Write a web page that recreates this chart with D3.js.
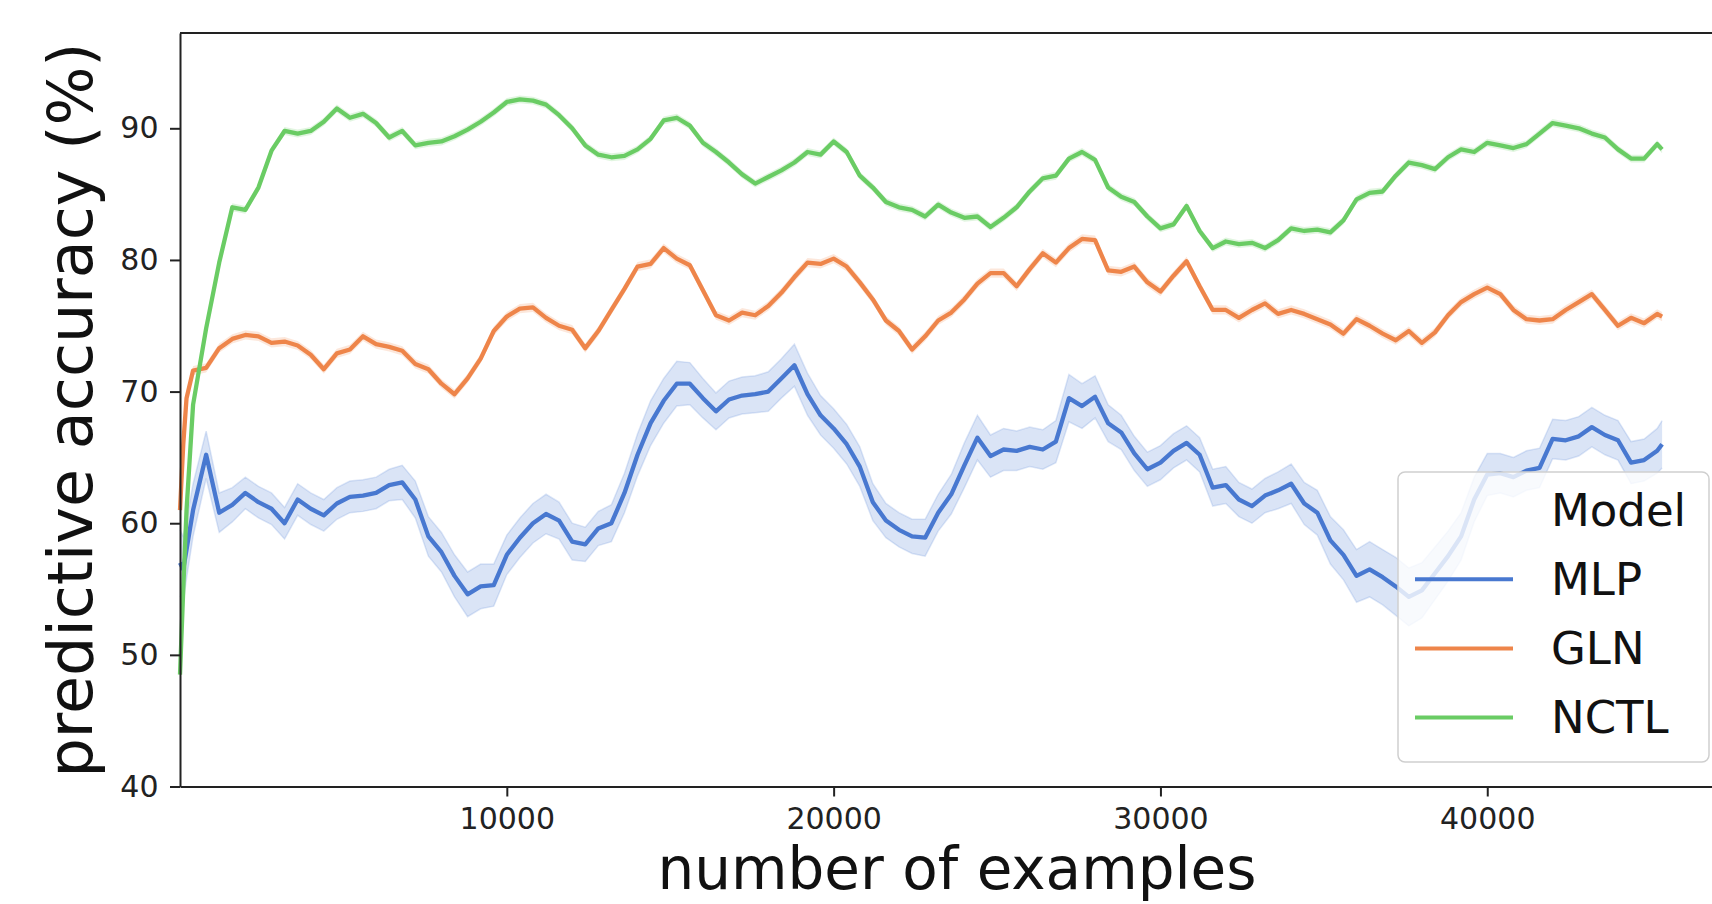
<!DOCTYPE html>
<html>
<head>
<meta charset="utf-8">
<script src="https://cdn.jsdelivr.net/npm/d3@7"></script>
<style>
  body { margin: 0; background: #fff; }
  svg { display: block; font-family: "DejaVu Sans", sans-serif; }
</style>
</head>
<body>
<svg id="chart"></svg>
<script>
// number of examples seen (shared x grid for all models)
const examples = [
  0, 100, 200, 400, 800, 1200, 1600, 2000, 2400, 2800,
  3200, 3600, 4000, 4400, 4800, 5200, 5600, 6000, 6400, 6800,
  7200, 7600, 8000, 8400, 8800, 9200, 9600, 10000, 10400, 10800,
  11200, 11600, 12000, 12400, 12800, 13200, 13600, 14000, 14400, 14800,
  15200, 15600, 16000, 16400, 16800, 17200, 17600, 18000, 18400, 18800,
  19200, 19600, 20000, 20400, 20800, 21200, 21600, 22000, 22400, 22800,
  23200, 23600, 24000, 24400, 24800, 25200, 25600, 26000, 26400, 26800,
  27200, 27600, 28000, 28400, 28800, 29200, 29600, 30000, 30400, 30800,
  31200, 31600, 32000, 32400, 32800, 33200, 33600, 34000, 34400, 34800,
  35200, 35600, 36000, 36400, 36800, 37200, 37600, 38000, 38400, 38800,
  39200, 39600, 40000, 40400, 40800, 41200, 41600, 42000, 42400, 42800,
  43200, 43600, 44000, 44400, 44800, 45200, 45350
];

const mlpAcc = [
  57.0, 56.5, 58.0, 61.0, 65.2, 60.8, 61.4, 62.3, 61.6, 61.1,
  60.0, 61.8, 61.1, 60.6, 61.5, 62.0, 62.1, 62.3, 62.9, 63.1,
  61.8, 59.0, 57.8, 56.0, 54.6, 55.2, 55.3, 57.6, 58.9, 60.0,
  60.7, 60.2, 58.6, 58.4, 59.6, 60.0, 62.3, 65.2, 67.6, 69.3,
  70.6, 70.6, 69.5, 68.5, 69.4, 69.7, 69.8, 70.0, 71.0, 72.0,
  69.8, 68.2, 67.2, 66.0, 64.3, 61.6, 60.2, 59.5, 59.0, 58.9,
  60.8, 62.2, 64.4, 66.5, 65.1, 65.6, 65.5, 65.8, 65.6, 66.2,
  69.5, 68.9, 69.6, 67.6, 66.9, 65.3, 64.1, 64.6, 65.5, 66.1,
  65.2, 62.7, 62.9, 61.8, 61.3, 62.1, 62.5, 63.0, 61.5, 60.8,
  58.7, 57.6, 56.0, 56.5, 55.9, 55.2, 54.4, 54.9, 56.2, 57.5,
  59.0, 61.8, 63.7, 63.8, 63.5, 64.0, 64.2, 66.4, 66.3, 66.6,
  67.3, 66.7, 66.3, 64.6, 64.8, 65.5, 66.0
];

// half width of the MLP confidence band
const mlpCi = [
  2.5, 2.5, 2.2, 2.0, 1.8, 1.5, 1.3, 1.2, 1.2, 1.2,
  1.2, 1.2, 1.2, 1.2, 1.2, 1.2, 1.2, 1.2, 1.2, 1.3,
  1.4, 1.5, 1.5, 1.6, 1.7, 1.7, 1.6, 1.5, 1.5, 1.5,
  1.5, 1.4, 1.4, 1.3, 1.3, 1.4, 1.5, 1.6, 1.7, 1.7,
  1.7, 1.6, 1.5, 1.4, 1.4, 1.4, 1.4, 1.5, 1.5, 1.6,
  1.6, 1.5, 1.5, 1.5, 1.5, 1.4, 1.3, 1.3, 1.3, 1.4,
  1.4, 1.5, 1.7, 1.7, 1.6, 1.6, 1.5, 1.5, 1.5, 1.6,
  1.8, 1.7, 1.6, 1.4, 1.3, 1.3, 1.3, 1.3, 1.3, 1.3,
  1.3, 1.4, 1.4, 1.3, 1.3, 1.3, 1.4, 1.5, 1.6, 1.7,
  1.8, 1.9, 2.0, 2.1, 2.1, 2.2, 2.2, 2.1, 2.0, 1.9,
  1.8, 1.7, 1.6, 1.5, 1.5, 1.5, 1.5, 1.5, 1.5, 1.5,
  1.5, 1.5, 1.5, 1.6, 1.6, 1.7, 1.8
];

const glnAcc = [
  61.0, 66.0, 69.5, 71.6, 71.8, 73.3, 74.0, 74.3, 74.2, 73.7,
  73.8, 73.5, 72.8, 71.7, 72.9, 73.2, 74.2, 73.6, 73.4, 73.1,
  72.1, 71.7, 70.6, 69.8, 71.0, 72.5, 74.6, 75.7, 76.3, 76.4,
  75.6, 75.0, 74.7, 73.3, 74.6, 76.2, 77.8, 79.5, 79.7, 80.9,
  80.1, 79.6, 77.7, 75.8, 75.4, 76.0, 75.8, 76.5, 77.5, 78.7,
  79.8, 79.7, 80.1, 79.5, 78.3, 77.0, 75.4, 74.6, 73.2, 74.2,
  75.4, 76.0, 77.0, 78.2, 79.0, 79.0, 78.0, 79.3, 80.5, 79.8,
  80.9, 81.6, 81.5, 79.2, 79.1, 79.5, 78.3, 77.6, 78.8, 79.9,
  78.0, 76.2, 76.2, 75.6, 76.2, 76.7, 75.9, 76.2, 75.9, 75.5,
  75.1, 74.4, 75.5, 75.0, 74.4, 73.9, 74.6, 73.7, 74.5, 75.8,
  76.8, 77.4, 77.9, 77.4, 76.2, 75.5, 75.4, 75.5, 76.2, 76.8,
  77.4, 76.2, 75.0, 75.6, 75.2, 75.9, 75.7
];

const nctlAcc = [
  48.5, 55.0, 61.0, 69.0, 74.8, 79.8, 84.0, 83.8, 85.5, 88.3,
  89.8, 89.6, 89.8, 90.5, 91.5, 90.8, 91.1, 90.4, 89.3, 89.8,
  88.7, 88.9, 89.0, 89.4, 89.9, 90.5, 91.2, 92.0, 92.2, 92.1,
  91.8, 91.0, 90.0, 88.7, 88.0, 87.8, 87.9, 88.4, 89.2, 90.6,
  90.8, 90.2, 88.9, 88.2, 87.4, 86.5, 85.8, 86.3, 86.8, 87.4,
  88.2, 88.0, 89.0, 88.2, 86.4, 85.5, 84.4, 84.0, 83.8, 83.3,
  84.2, 83.6, 83.2, 83.3, 82.5, 83.2, 84.0, 85.2, 86.2, 86.4,
  87.7, 88.2, 87.6, 85.5, 84.8, 84.4, 83.3, 82.4, 82.7, 84.1,
  82.2, 80.9, 81.4, 81.2, 81.3, 80.9, 81.5, 82.4, 82.2, 82.3,
  82.1, 83.0, 84.6, 85.1, 85.2, 86.4, 87.4, 87.2, 86.9, 87.8,
  88.4, 88.2, 88.9, 88.7, 88.5, 88.8, 89.6, 90.4, 90.2, 90.0,
  89.6, 89.3, 88.4, 87.7, 87.7, 88.8, 88.4
];

// GLN and NCTL bands are very narrow
const glnCi = 0.35;
const nctlCi = 0.3;

const modelNames = ["MLP", "GLN", "NCTL"];
const modelColors = ["#4878d0", "#ee854a", "#6acc64"];
const yTicks = [40, 50, 60, 70, 80, 90];
const xTicks = [10000, 20000, 30000, 40000];

function drawChart() {
  let config = {
    'svg': { width: 1712, height: 904 },
    'plot': { left: 180, top: 33, bottom: 786.5, right: 1734 }
  };

  let svg = d3.select("#chart")
    .attr("width", config.svg.width)
    .attr("height", config.svg.height);

  let x = d3.scaleLinear()
    .domain([0, 47550])
    .range([config.plot.left, config.plot.right]);

  let y = d3.scaleLinear()
    .domain([40, 97.24])
    .range([config.plot.bottom, config.plot.top]);

  let series = [
    { name: modelNames[0], color: modelColors[0], values: mlpAcc, ci: i => mlpCi[i] },
    { name: modelNames[1], color: modelColors[1], values: glnAcc, ci: i => glnCi },
    { name: modelNames[2], color: modelColors[2], values: nctlAcc, ci: i => nctlCi }
  ];

  let line = d3.line()
    .x((d, i) => x(examples[i]))
    .y(d => y(d));

  // bands + lines, one model after the other (seaborn order)
  let marks = svg.append("g").attr("id", "marks");
  series.forEach(s => {
    let band = d3.area()
      .x((d, i) => x(examples[i]))
      .y0((d, i) => y(d - s.ci(i)))
      .y1((d, i) => y(d + s.ci(i)));

    marks.append("path")
      .datum(s.values)
      .attr("d", band)
      .style("fill", s.color)
      .style("fill-opacity", 0.2);

    if (s.name === "MLP") {
      // faint edges of the band
      [-1, 1].forEach(sign => {
        marks.append("path")
          .datum(s.values)
          .attr("d", d3.line().x((d, i) => x(examples[i])).y((d, i) => y(d + sign * s.ci(i))))
          .style("fill", "none")
          .style("stroke", s.color)
          .style("stroke-opacity", 0.18)
          .style("stroke-width", 1.5);
      });
    }

    marks.append("path")
      .datum(s.values)
      .attr("d", line)
      .style("fill", "none")
      .style("stroke", s.color)
      .style("stroke-width", 4.3)
      .style("stroke-linejoin", "round");
  });

  // axes
  let yaxis = d3.axisLeft(y)
    .tickValues(yTicks)
    .tickSize(10)
    .tickSizeOuter(0)
    .tickPadding(11.5);

  let xaxis = d3.axisBottom(x)
    .tickValues(xTicks)
    .tickFormat(d3.format("d"))
    .tickSize(10)
    .tickSizeOuter(0)
    .tickPadding(11);

  svg.append("g")
    .attr("id", "y-axis")
    .attr("transform", translate(config.plot.left, 0))
    .call(yaxis);

  svg.append("g")
    .attr("id", "x-axis")
    .attr("transform", translate(0, config.plot.bottom))
    .call(xaxis);

  svg.selectAll("#x-axis .domain, #y-axis .domain, .tick line")
    .style("stroke", "#222")
    .style("stroke-width", 2);

  svg.selectAll(".tick text")
    .style("font-family", "DejaVu Sans")
    .style("font-size", "30px")
    .style("fill", "#222");

  // top spine
  svg.append("line")
    .attr("x1", config.plot.left)
    .attr("x2", config.svg.width)
    .attr("y1", config.plot.top)
    .attr("y2", config.plot.top)
    .style("stroke", "#222")
    .style("stroke-width", 2);

  // axis titles
  svg.append("text")
    .attr("transform", translate(92, 410) + " rotate(-90)")
    .attr("text-anchor", "middle")
    .style("font-size", "62px")
    .style("fill", "#111")
    .text("predictive accuracy (%)");

  svg.append("text")
    .attr("x", 957)
    .attr("y", 889)
    .attr("text-anchor", "middle")
    .style("font-size", "58px")
    .style("fill", "#111")
    .text("number of examples");

  // legend
  let legend = svg.append("g").attr("id", "legend");
  legend.append("rect")
    .attr("x", 1398)
    .attr("y", 472)
    .attr("width", 311)
    .attr("height", 290)
    .attr("rx", 7)
    .style("fill", "#fff")
    .style("fill-opacity", 0.8)
    .style("stroke", "#cfcfcf")
    .style("stroke-width", 1.5);

  let rowY = i => 510 + i * 69.2;

  legend.append("text")
    .attr("x", 1551)
    .attr("y", rowY(0))
    .attr("dominant-baseline", "central")
    .style("font-size", "45px")
    .style("fill", "#111")
    .text("Model");

  let rows = legend.selectAll("g.row")
    .data(series)
    .enter()
    .append("g")
    .attr("class", "row")
    .attr("transform", (d, i) => translate(0, rowY(i + 1)));

  rows.append("line")
    .attr("x1", 1415)
    .attr("x2", 1513)
    .style("stroke", d => d.color)
    .style("stroke-width", 4);

  rows.append("text")
    .attr("x", 1551)
    .attr("dominant-baseline", "central")
    .style("font-size", "45px")
    .style("fill", "#111")
    .text(d => d.name);

  function translate(x, y) {
    return 'translate(' + x + ',' + y + ')';
  }
}

drawChart();
</script>
</body>
</html>
